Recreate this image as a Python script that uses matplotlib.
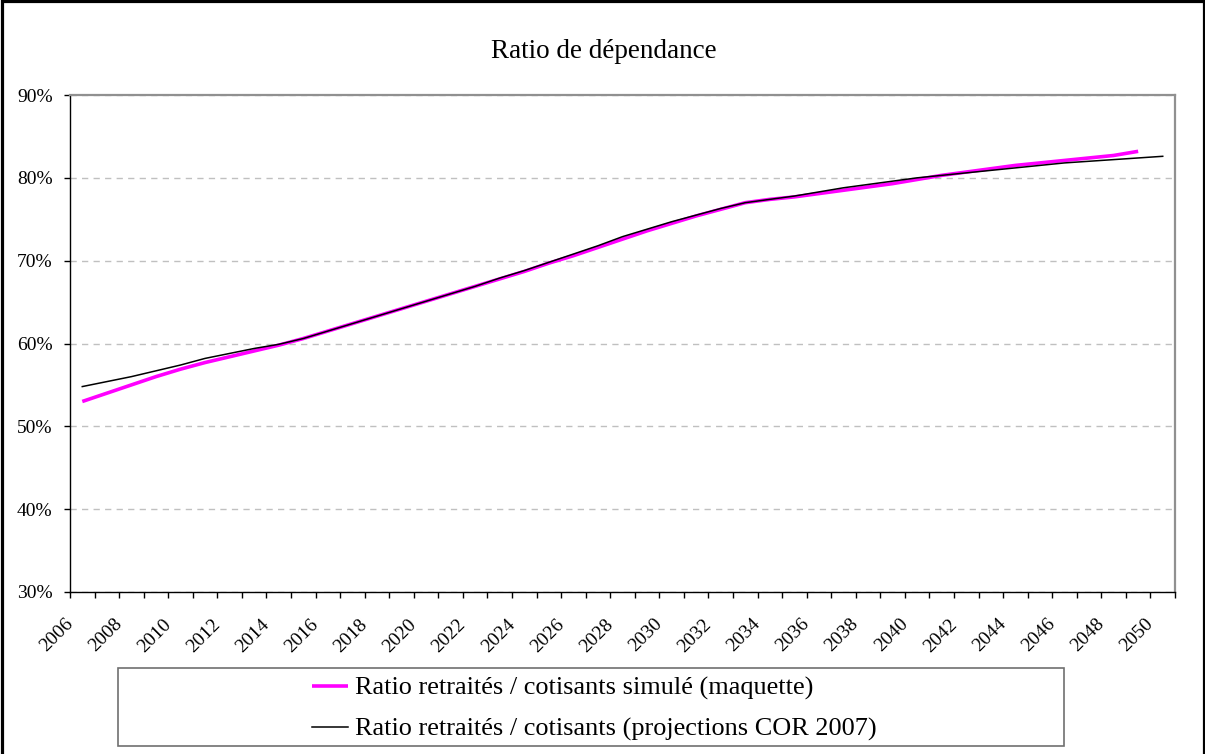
import numpy as np
import matplotlib
matplotlib.use("Agg")
import matplotlib.pyplot as plt
from matplotlib.patches import Rectangle
from matplotlib.transforms import ScaledTranslation

plt.rcParams['font.family'] = ['Liberation Serif', 'DejaVu Serif']

# Years 2006..2050, ratios in percent
years = list(range(2006, 2051))

# simulated ratio (model), runs to 2049
ratio_simule = [53.0, 54.0, 55.0, 56.0, 56.9, 57.7, 58.4, 59.1, 59.8, 60.6,
                61.5, 62.4, 63.3, 64.2, 65.1, 66.0, 66.9, 67.8, 68.7, 69.7,
                70.6, 71.6, 72.6, 73.6, 74.5, 75.4, 76.2, 77.0, 77.4, 77.7,
                78.1, 78.5, 78.9, 79.3, 79.8, 80.3, 80.7, 81.1, 81.5, 81.8,
                82.1, 82.4, 82.7, 83.2]

# COR 2007 projections
ratio_cor = [54.8, 55.4, 56.0, 56.7, 57.4, 58.2, 58.8, 59.4, 59.9, 60.6,
             61.5, 62.4, 63.3, 64.2, 65.1, 66.0, 66.9, 67.9, 68.8, 69.8,
             70.8, 71.8, 72.9, 73.8, 74.7, 75.5, 76.3, 77.0, 77.4, 77.8,
             78.3, 78.8, 79.2, 79.6, 80.0, 80.3, 80.6, 80.9, 81.2, 81.5,
             81.8, 82.0, 82.2, 82.4, 82.6]

labels = ["Ratio retraités / cotisants simulé (maquette)",
          "Ratio retraités / cotisants (projections COR 2007)"]

W, H = 1205, 754
fig = plt.figure(figsize=(W / 100, H / 100), dpi=100)
ax = fig.add_axes([70 / W, 1 - 592 / H, (1175 - 70) / W, (592 - 95) / H])

x_sim = np.arange(len(ratio_simule))
x_cor = np.arange(len(ratio_cor))
l1, = ax.plot(x_sim, ratio_simule, color='#ff00ff', lw=2.6, solid_capstyle='butt')
l2, = ax.plot(x_cor, ratio_cor, color='black', lw=1.1)

ax.set_xlim(-0.5, len(years) - 0.5)
ax.set_ylim(30, 90)

# y axis
ax.set_yticks(range(30, 91, 10))
ax.set_yticklabels([f"{v}%" for v in range(30, 91, 10)], fontsize=14)
ax.tick_params(axis='y', direction='out', length=4.5, width=1, pad=8)
ax.yaxis.grid(True, color='#c0c0c0', lw=1, ls=(0, (4.5, 3.8)))
ax.set_axisbelow(True)

# x axis: tick marks between categories, labels every two years
ax.set_xticks(np.arange(-0.5, len(years), 1), minor=True)
ax.set_xticks(range(0, len(years), 2))
ax.set_xticklabels([str(y) for y in years[::2]], fontsize=14,
                   rotation=45, ha='right', va='top', rotation_mode='anchor')
ax.tick_params(axis='x', which='major', length=0, pad=17)
ax.tick_params(axis='x', which='minor', direction='out', length=4.5, width=1)
shift = ScaledTranslation(-18 / 100, 0, fig.dpi_scale_trans)
for lab in ax.get_xticklabels():
    lab.set_transform(lab.get_transform() + shift)

for side in ('left', 'bottom'):
    ax.spines[side].set_color('black')
    ax.spines[side].set_linewidth(1)
for side in ('top', 'right'):
    ax.spines[side].set_color('#909090')
    ax.spines[side].set_linewidth(1.6)

fig.text(604 / W, 1 - 51 / H, "Ratio de dépendance", ha='center', va='center',
         fontsize=19.5)

# legend in its own framed box below the plot
fig.patches.append(Rectangle((118 / W, 1 - 746 / H), (1064 - 118) / W, (746 - 668) / H,
                             transform=fig.transFigure, fill=False,
                             edgecolor='#707070', lw=1.2))
fig.legend([l1, l2], labels, loc='center', bbox_to_anchor=(594 / W, 1 - 709 / H),
           frameon=False, fontsize=18.9, handlelength=1.4, handletextpad=0.25,
           labelspacing=0.65, borderpad=0)

# outer chart border
fig.patches.append(Rectangle((1.5 / W, -0.1), (W - 3) / W, 1.1 - 1.5 / H,
                             transform=fig.transFigure, fill=False,
                             edgecolor='black', lw=2.3))

fig.savefig("out.png", dpi=100)
